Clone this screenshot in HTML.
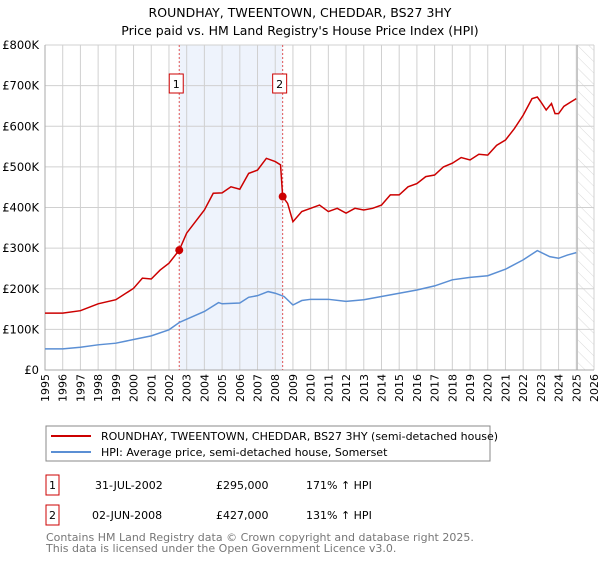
<!DOCTYPE html>
<html><head><meta charset="utf-8"><style>
body{margin:0;background:#fff;width:600px;height:560px;overflow:hidden;font-family:"DejaVu Sans","Liberation Sans",sans-serif}
svg text{font-family:"DejaVu Sans","Liberation Sans",sans-serif}
</style></head><body>
<svg id="c" width="600" height="560">
<defs><pattern id="hatch" width="8" height="8" patternUnits="userSpaceOnUse" patternTransform="rotate(-45)"><line x1="0" y1="0" x2="0" y2="8" stroke="#cfcfcf" stroke-width="0.8"/></pattern></defs>
<text x="300" y="17" text-anchor="middle" font-size="12.5">ROUNDHAY, TWEENTOWN, CHEDDAR, BS27 3HY</text>
<text x="300" y="35" text-anchor="middle" font-size="12.5">Price paid vs. HM Land Registry's House Price Index (HPI)</text>
<g id="plot"></g>
<rect x="46" y="426" width="444" height="35" fill="#fff" stroke="#888"/>
<line x1="51" y1="436" x2="91" y2="436" stroke="#cc0000" stroke-width="2"/>
<text x="101" y="440" font-size="11">ROUNDHAY, TWEENTOWN, CHEDDAR, BS27 3HY (semi-detached house)</text>
<line x1="51" y1="452" x2="91" y2="452" stroke="#5b8fd4" stroke-width="2"/>
<text x="101" y="456" font-size="11">HPI: Average price, semi-detached house, Somerset</text>
<g font-size="11">
<rect x="46" y="475" width="13" height="20" fill="none" stroke="#cc0000"/>
<text x="52.5" y="489" text-anchor="middle">1</text>
<text x="95" y="489">31-JUL-2002</text><text x="216" y="489">£295,000</text><text x="306" y="489">171% ↑ HPI</text>
<rect x="46" y="505" width="13" height="20" fill="none" stroke="#cc0000"/>
<text x="52.5" y="519" text-anchor="middle">2</text>
<text x="92" y="519">02-JUN-2008</text><text x="216" y="519">£427,000</text><text x="306" y="519">131% ↑ HPI</text>
</g>
<text x="46" y="541" font-size="11" fill="#777">Contains HM Land Registry data © Crown copyright and database right 2025.</text>
<text x="46" y="552" font-size="11" fill="#777">This data is licensed under the Open Government Licence v3.0.</text>
</svg>
<script>
const yTicks=[0,100000,200000,300000,400000,500000,600000,700000,800000];
const yTickLabels=["£0","£100K","£200K","£300K","£400K","£500K","£600K","£700K","£800K"];
const years=[1995,1996,1997,1998,1999,2000,2001,2002,2003,2004,2005,2006,2007,2008,2009,2010,2011,2012,2013,2014,2015,2016,2017,2018,2019,2020,2021,2022,2023,2024,2025,2026];
const redT=[1995,1996,1997,1998,1999,2000,2000.5,2001,2001.5,2002,2002.58,2003,2004,2004.5,2005,2005.5,2006,2006.5,2007,2007.5,2008,2008.3,2008.42,2008.7,2009,2009.5,2010,2010.5,2011,2011.5,2012,2012.5,2013,2013.5,2014,2014.5,2015,2015.5,2016,2016.5,2017,2017.5,2018,2018.5,2019,2019.5,2020,2020.5,2021,2021.5,2022,2022.5,2022.8,2023,2023.3,2023.6,2023.8,2024,2024.3,2024.7,2025];
const redV=[140000,140000,146000,163000,173000,201000,226000,224000,246000,263000,295000,337000,394000,435000,436000,451000,445000,484000,492000,521000,513000,505000,427000,410000,365000,390000,398000,406000,390000,398000,386000,398000,394000,398000,406000,431000,431000,451000,459000,476000,480000,500000,509000,523000,517000,531000,529000,553000,566000,594000,627000,668000,672000,660000,640000,656000,631000,631000,649000,660000,668000];
const blueT=[1995,1996,1997,1998,1999,2000,2001,2002,2002.58,2003,2004,2004.8,2005,2006,2006.5,2007,2007.6,2008,2008.5,2009,2009.5,2010,2011,2012,2013,2014,2015,2016,2017,2018,2019,2020,2021,2022,2022.8,2023.5,2024,2024.5,2025];
const blueV=[52000,52000,56000,62000,66000,75000,84000,99000,117000,125000,144000,166000,163000,165000,179000,183000,193000,189000,181000,160000,171000,174000,174000,169000,173000,181000,189000,197000,207000,222000,228000,232000,248000,271000,294000,279000,275000,283000,289000];
const saleT=[2002.58,2008.42];
const saleV=[295000,427000];
const saleLabels=["1","2"];

const X0=45,X1=594,Y0=370,Y1=45;
const x=t=>X0+(t-1995)/31*(X1-X0);
const y=v=>Y0-v/800000*(Y0-Y1);
const NS="http://www.w3.org/2000/svg";
const g=document.getElementById('plot');
function mk(tag,attrs,parent){const e=document.createElementNS(NS,tag);for(const k in attrs)e.setAttribute(k,attrs[k]);(parent||g).appendChild(e);return e;}
let e;
e=mk('rect',{x:x(saleT[0]),y:Y1,width:x(saleT[1])-x(saleT[0]),height:Y0-Y1,fill:'#eef3fc'});


e=mk('rect',{x:x(2025.1),y:Y1,width:X1-x(2025.1),height:Y0-Y1,fill:'url(#hatch)'});


years.forEach(yr=>{
 e=mk('line',{x1:x(yr),x2:x(yr),y1:Y1,y2:Y0,stroke:'#d0d0d0','stroke-width':1});
 
 
 e=mk('text',{x:0,y:0,'font-size':11,'text-anchor':'end',transform:`translate(${x(yr)+4},374) rotate(-90)`});
 e.textContent=yr;
 
 
});
yTicks.forEach((v,i)=>{
 e=mk('line',{x1:X0,x2:X1,y1:y(v),y2:y(v),stroke:'#d0d0d0','stroke-width':1});
 
 
 e=mk('text',{x:39,y:y(v)+4,'font-size':11.5,'text-anchor':'end'});
 e.textContent=yTickLabels[i];
 
 
});
e=mk('line',{x1:x(2025.05),x2:x(2025.05),y1:Y1,y2:Y0,stroke:'#aaa','stroke-width':1});


e=mk('path',{d:`M${X0},${Y1}V${Y0}H${X1}`,fill:'none',stroke:'#aaa'});


saleT.forEach((t,i)=>{
 e=mk('line',{x1:x(t),x2:x(t),y1:Y1,y2:Y0,stroke:'#e05555','stroke-width':1,'stroke-dasharray':'2,2'});
 
 
});
e=mk('polyline',{points:blueT.map((t,i)=>x(t)+','+y(blueV[i])).join(' '),fill:'none',stroke:'#5b8fd4','stroke-width':1.5});


e=mk('polyline',{points:redT.map((t,i)=>x(t)+','+y(redV[i])).join(' '),fill:'none',stroke:'#cc0000','stroke-width':1.5});


saleT.forEach((t,i)=>{
 e=mk('circle',{cx:x(t),cy:y(saleV[i]),r:4,fill:'#cc0000'});
 
 
 e=mk('rect',{x:x(t)-10,y:74,width:14,height:19,fill:'#fff',stroke:'#cc0000'});
 
 
 e=mk('text',{x:x(t)-3,y:88,'font-size':11,'text-anchor':'middle'});
 e.textContent=saleLabels[i];
 
 
});
</script>
</body></html>
